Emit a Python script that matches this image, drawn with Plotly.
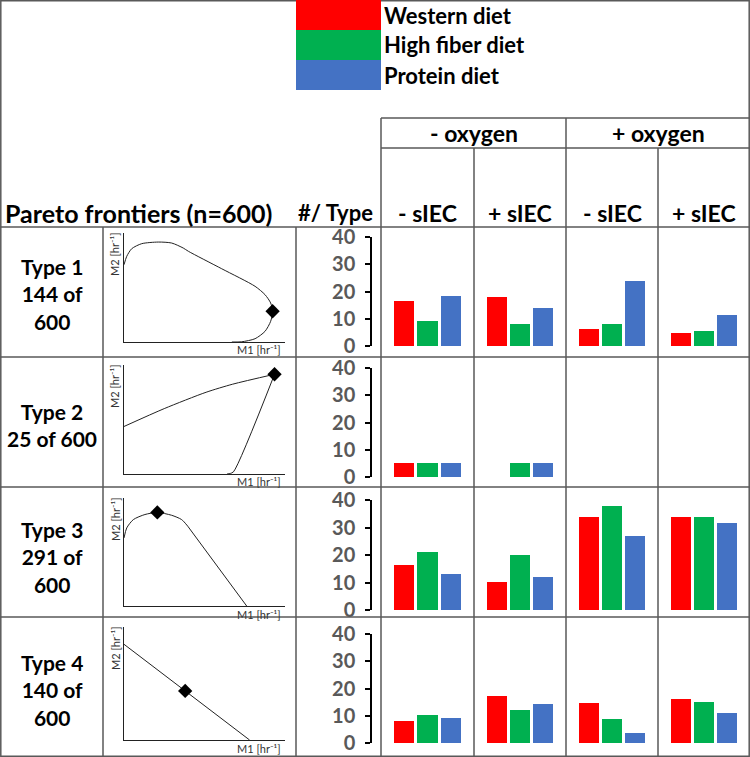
import plotly.graph_objects as go

W, H = 750, 757

DIETS = ["Western diet", "High fiber diet", "Protein diet"]
DIET_COLORS = ["#FF0000", "#00B050", "#4472C4"]

OXYGEN_LABELS = ["- oxygen", "+ oxygen"]
SIEC_LABELS = ["- sIEC", "+ sIEC", "- sIEC", "+ sIEC"]

TYPE_LABELS = [
    "Type 1<br>144 of<br>600",
    "Type 2<br>25 of 600",
    "Type 3<br>291 of<br>600",
    "Type 4<br>140 of<br>600",
]

# counts per column (-O2 -sIEC, -O2 +sIEC, +O2 -sIEC, +O2 +sIEC), per diet (W, HF, P)
TYPE1_COUNTS = [[16.5, 9.2, 18.3], [18, 8, 14], [6.2, 8, 24], [4.8, 5.5, 11.4]]
TYPE2_COUNTS = [[5, 5, 5], [None, 5, 5], [None, None, None], [None, None, None]]
TYPE3_COUNTS = [[16.4, 21, 13], [10.2, 20, 12], [33.8, 37.8, 26.9], [34, 34, 31.6]]
TYPE4_COUNTS = [[8.1, 10.3, 9.2], [17.3, 12.1, 14.3], [14.7, 8.8, 3.7], [16.2, 15.1, 11]]
COUNTS = [TYPE1_COUNTS, TYPE2_COUNTS, TYPE3_COUNTS, TYPE4_COUNTS]
Y_TICKS = [0, 10, 20, 30, 40]

# schematic Pareto frontiers (normalised M1, M2)
TYPE1_X = [0, 0.017, 0.048, 0.11, 0.213, 0.296, 0.368, 0.4, 0.607, 0.814, 0.876, 0.911,
           0.923, 0.911, 0.876, 0.814, 0.731, 0.67]
TYPE1_Y = [0.709, 0.786, 0.856, 0.902, 0.917, 0.908, 0.862, 0.832, 0.672, 0.511, 0.434, 0.358,
           0.282, 0.19, 0.098, 0.03, 0.002, 0.0]
TYPE2_UP_X = [0, 0.25, 0.51, 0.675, 0.935]
TYPE2_UP_Y = [0.436, 0.6, 0.75, 0.824, 0.915]
TYPE2_LOW_X = [0.935, 0.68, 0.66, 0.64]
TYPE2_LOW_Y = [0.915, 0.02, 0.005, 0.0]
TYPE3_ARC_X = [0, 0.017, 0.058, 0.13, 0.207, 0.296, 0.358, 0.396]
TYPE3_ARC_Y = [0.63, 0.723, 0.80, 0.847, 0.866, 0.84, 0.80, 0.739]
TYPE3_LINE_X = [0.396, 0.762]
TYPE3_LINE_Y = [0.739, 0.0]
TYPE4_X = [0, 0.78]
TYPE4_Y = [0.847, 0.0]
OPT_X = [0.923, 0.935, 0.207, 0.38]
OPT_Y = [0.282, 0.915, 0.866, 0.434]

FONT = "Lato"
LINE = "#595959"


def px(x):
    return x / W


def py(y):
    return 1 - y / H


def label(text, x, y, size, xanchor="center", **kw):
    return dict(text=text, x=px(x), y=py(y), xref="paper", yref="paper", showarrow=False,
                xanchor=xanchor, yanchor="middle",
                font=dict(family=FONT, size=size, color=kw.pop("color", "black"),
                          weight=kw.pop("weight", "bold")), **kw)


fig = go.Figure()
layout = {"annotations": []}

ROW_TOPS = [227, 357, 487, 617]
PARETO_Y = [(233, 342), (365, 474), (498, 606), (627, 740)]
BAR_Y = [(237, 346), (368, 477), (500, 610), (634, 743)]
COLS = [(381, 474), (474, 566), (566, 658), (658, 750)]

curves = [
    [(TYPE1_X, TYPE1_Y, "spline")],
    [(TYPE2_UP_X, TYPE2_UP_Y, "spline"), (TYPE2_LOW_X, TYPE2_LOW_Y, "spline")],
    [(TYPE3_ARC_X, TYPE3_ARC_Y, "spline"), (TYPE3_LINE_X, TYPE3_LINE_Y, "linear")],
    [(TYPE4_X, TYPE4_Y, "linear")],
]

ax = 0
for r in range(4):
    # pareto sketch
    ax += 1
    sfx = "" if ax == 1 else str(ax)
    top, bot = PARETO_Y[r]
    layout[f"xaxis{sfx}"] = dict(domain=[px(124), px(285)], range=[0, 1], anchor=f"y{sfx}",
                                 showline=True, linecolor="#222", linewidth=1, showgrid=False,
                                 zeroline=False, showticklabels=False, ticks="", automargin=False)
    layout[f"yaxis{sfx}"] = dict(domain=[py(bot), py(top)], range=[0, 1], anchor=f"x{sfx}",
                                 showline=True, linecolor="#222", linewidth=1, showgrid=False,
                                 zeroline=False, showticklabels=False, ticks="", automargin=False)
    for cx, cy, shape in curves[r]:
        fig.add_trace(go.Scatter(x=cx, y=cy, mode="lines", xaxis=f"x{sfx}", yaxis=f"y{sfx}",
                                 line=dict(color="#222", width=1, shape=shape, smoothing=0.7),
                                 showlegend=False, hoverinfo="skip", cliponaxis=False))
    fig.add_trace(go.Scatter(x=[OPT_X[r]], y=[OPT_Y[r]], mode="markers", xaxis=f"x{sfx}",
                             yaxis=f"y{sfx}", marker=dict(symbol="diamond", size=11, color="black"),
                             showlegend=False, cliponaxis=False))
    layout["annotations"].append(label("M2 [hr⁻¹]", 115, top + 21, 11, color="#333",
                                       weight="normal", textangle=-90))
    layout["annotations"].append(label("M1 [hr⁻¹]", 283, bot + 8, 11, xanchor="right",
                                       color="#333", weight="normal"))

    # bar panels
    btop, bbot = BAR_Y[r]
    for c in range(4):
        ax += 1
        sfx = str(ax)
        l, rr = COLS[c]
        layout[f"xaxis{sfx}"] = dict(domain=[px(l), px(rr)], range=[-0.97, 2.97], anchor=f"y{sfx}",
                                     visible=False, automargin=False)
        ydef = dict(domain=[py(bbot), py(btop)], range=[0, 40], showgrid=False, zeroline=False,
                    automargin=False)
        if c == 0:
            ydef.update(anchor="free", position=px(371), showline=True, linecolor="black",
                        linewidth=1.5, ticks="outside", ticklen=5, tickwidth=1.5, tickcolor="black",
                        tickvals=Y_TICKS, ticklabelstandoff=6,
                        tickfont=dict(family=FONT, size=20, color="#595959", weight="bold"))
        else:
            ydef.update(anchor=f"x{sfx}", visible=False)
        layout[f"yaxis{sfx}"] = ydef
        fig.add_trace(go.Bar(x=[0, 1, 2], y=COUNTS[r][c], width=0.85, xaxis=f"x{sfx}",
                             yaxis=f"y{sfx}", marker=dict(color=DIET_COLORS, line=dict(width=0)),
                             showlegend=False))

shapes = []


def hline(y, x0, x1):
    shapes.append(dict(type="line", xref="paper", yref="paper", x0=px(x0), x1=px(x1),
                       y0=py(y), y1=py(y), line=dict(color=LINE, width=1.5)))


def vline(x, y0, y1):
    shapes.append(dict(type="line", xref="paper", yref="paper", x0=px(x), x1=px(x),
                       y0=py(y0), y1=py(y1), line=dict(color=LINE, width=1.5)))


shapes.append(dict(type="rect", xref="paper", yref="paper", x0=px(0.8), x1=px(749.2),
                   y0=py(0.8), y1=py(756.2), line=dict(color=LINE, width=1.5)))
hline(118, 381, 750)
hline(148, 381, 750)
for y in ROW_TOPS:
    hline(y, 0, 750)
vline(381, 118, 757)
vline(566, 118, 757)
vline(474, 148, 757)
vline(658, 148, 757)
vline(103, 227, 757)
vline(296, 227, 757)

# colour key
for i, (name, col) in enumerate(zip(DIETS, DIET_COLORS)):
    shapes.append(dict(type="rect", xref="paper", yref="paper", x0=px(296), x1=px(381),
                       y0=py(i * 30), y1=py(i * 30 + 30), fillcolor=col, line=dict(width=0)))
    layout["annotations"].append(label(name, 382, i * 30 + 15, 22, xanchor="left"))

for i, lab in enumerate(OXYGEN_LABELS):
    layout["annotations"].append(label(lab, 474 + i * 184, 133, 23))
for i, lab in enumerate(SIEC_LABELS):
    l, rr = COLS[i]
    layout["annotations"].append(label(lab, (l + rr) / 2, 213, 23))
layout["annotations"].append(label("Pareto frontiers (n=600)", 3, 213, 25, xanchor="left"))
layout["annotations"].append(label("#/ Type", 335, 213, 22))

TYPE_Y = [294, 425, 557, 690]
for r, lab in enumerate(TYPE_LABELS):
    layout["annotations"].append(label(lab, 52, TYPE_Y[r], 21))

fig.update_layout(**layout)
fig.update_layout(width=W, height=H, margin=dict(l=0, r=0, t=0, b=0, autoexpand=False),
                  shapes=shapes, plot_bgcolor="white", paper_bgcolor="white", bargap=0,
                  showlegend=False)
fig.write_html("out.html", config={"displayModeBar": False},
               post_script="document.body.style.margin='0';")
